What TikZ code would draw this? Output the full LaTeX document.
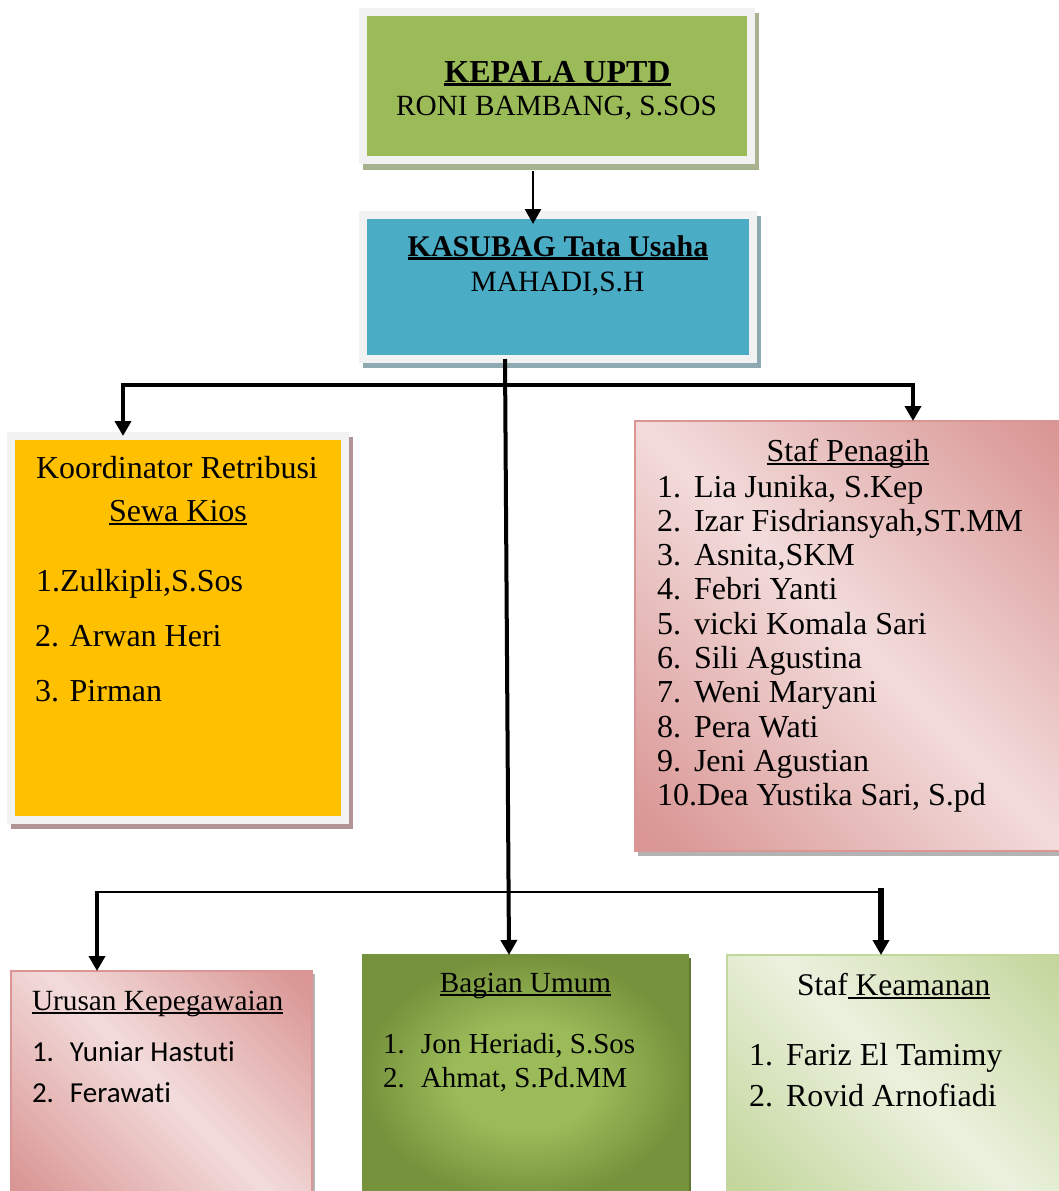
\documentclass[tikz,border=0pt]{standalone}
\usepackage{fontspec}
\setmainfont{Liberation Serif}
\newfontfamily\calibrifont[Ligatures=CommonOff]{Carlito}
\usetikzlibrary{arrows.meta,calc,backgrounds}

\definecolor{kgreen}{HTML}{9BBB59}
\definecolor{frameC}{HTML}{F2F2F2}
\definecolor{shGreen}{HTML}{A7B28F}
\definecolor{kblue}{HTML}{4BACC6}
\definecolor{shBlue}{HTML}{8FA9B3}
\definecolor{kyellow}{HTML}{FFC000}
\definecolor{shRose}{HTML}{B39494}
\definecolor{pinkD}{HTML}{D99694}
\definecolor{pinkL}{HTML}{F2DCDB}
\definecolor{olivD}{HTML}{76923C}
\definecolor{olivL}{HTML}{9BBB59}
\definecolor{shOliv}{HTML}{5F7530}
\definecolor{lgD}{HTML}{C3D69B}
\definecolor{lgL}{HTML}{EBF1DE}
\definecolor{shGrey}{HTML}{B3B3B3}

\pgfdeclarehorizontalshading{pinkdiag}{100bp}{color(0bp)=(pinkD); color(17bp)=(pinkD); color(50bp)=(pinkL); color(83bp)=(pinkD); color(100bp)=(pinkD)}
\pgfdeclarehorizontalshading{lgdiag}{100bp}{color(0bp)=(lgD); color(17bp)=(lgD); color(50bp)=(lgL); color(83bp)=(lgD); color(100bp)=(lgD)}
\pgfdeclareradialshading{olivrad}{\pgfpoint{0bp}{0bp}}{color(0bp)=(olivL); color(11bp)=(olivL); color(25bp)=(olivD); color(50bp)=(olivD)}

\newsavebox\ulbox
\newcommand{\ulin}[2][2pt]{\sbox\ulbox{#2}\rlap{\rule[-4pt]{\wd\ulbox}{#1}}\usebox\ulbox}

\tikzset{
  framed/.style={rectangle, draw=frameC, line width=8pt, inner sep=0pt, outer sep=0pt},
  plainbox/.style={rectangle, line width=1.5pt, inner sep=0pt, outer sep=0pt},
  txt/.style={inner sep=0pt, outer sep=0pt, anchor=base},
  ltxt/.style={inner sep=0pt, outer sep=0pt, anchor=base west},
  arr/.style={-{Triangle[length=15pt,width=16pt]}, line width=4pt},
}

\begin{document}
\begin{tikzpicture}[x=1pt,y=-1pt]
\useasboundingbox (0,0) rectangle (1059,1191);

% boxes
\node[framed, fill=kgreen, minimum width=388pt, minimum height=148pt] (kepala) at (557,86) {};
\node[framed, fill=kblue, minimum width=390pt, minimum height=144pt] (kasubag) at (558,287) {};
\node[framed, fill=kyellow, minimum width=334pt, minimum height=384pt] (koord) at (178,628) {};
\node[plainbox, draw=pinkD, shade, shading=pinkdiag, shading angle=45, minimum width=440pt, minimum height=430pt] (penagih) at (855,636) {};
\node[plainbox, draw=pinkD, shade, shading=pinkdiag, shading angle=45, minimum width=301pt, minimum height=229pt] (urusan) at (161.5,1085.5) {};
\node[plainbox, draw=olivD, shade, shading=olivrad, minimum width=325pt, minimum height=245pt] (bagian) at (525.5,1077.5) {};
\node[plainbox, draw=lgD, shade, shading=lgdiag, shading angle=45, minimum width=348pt, minimum height=245pt] (keamanan) at (901,1077.5) {};

% shadows
\begin{scope}[on background layer]
  \fill[white] (0,0) rectangle (1059,1191);
  \fill[shGreen] ($(kepala.north west)+(0,1)$) rectangle ($(kepala.south east)+(8,10)$);
  \fill[shBlue] ($(kasubag.north west)+(0,1)$) rectangle ($(kasubag.south east)+(8,9)$);
  \fill[shRose] ($(koord.north west)+(0,1)$) rectangle ($(koord.south east)+(8,9)$);
  \fill[shGrey] ($(penagih.north west)+(3,5)$) rectangle ($(penagih.south east)+(3,5)$);
  \fill[shGrey] ($(urusan.north west)+(3,3)$) rectangle ($(urusan.south east)+(3,3)$);
  \fill[shOliv] ($(bagian.north west)+(3,3)$) rectangle ($(bagian.south east)+(3,3)$);
\end{scope}

% texts: top boxes
\node[txt, font=\fontsize{32}{36}\selectfont\bfseries] (t1) at (557.5,82) {\ulin[3pt]{KEPALA UPTD}};
\node[txt, font=\fontsize{29.3}{33}\selectfont] (t2) at (556.5,115) {RONI BAMBANG, S.SOS};
\node[txt, font=\fontsize{30}{34}\selectfont\bfseries] (t3) at (558,256) {\ulin[3pt]{KASUBAG Tata Usaha}};
\node[txt, font=\fontsize{29.5}{34}\selectfont] (t4) at (557.5,291) {MAHADI,S.H};

% koordinator
\node[txt, font=\fontsize{32}{36}\selectfont] (k1) at (177,478) {Koordinator Retribusi};
\node[txt, font=\fontsize{32}{36}\selectfont] (k2) at (178,521) {\ulin{Sewa Kios}};
\node[ltxt, font=\fontsize{32}{36}\selectfont] (k3) at (36,591) {1.Zulkipli,S.Sos};
\node[ltxt, font=\fontsize{32}{36}\selectfont] (k4) at (35,646) {2. Arwan Heri};
\node[ltxt, font=\fontsize{32}{36}\selectfont] (k5) at (35,701) {3. Pirman};

% staf penagih
\node[txt, font=\fontsize{32}{36}\selectfont] (p0) at (848,461) {\ulin{Staf Penagih}};
\foreach \t [count=\i] in {{Lia Junika, S.Kep},{Izar Fisdriansyah,ST.MM},{Asnita,SKM},{Febri Yanti},{vicki Komala Sari},{Sili Agustina},{Weni Maryani},{Pera Wati},{Jeni Agustian},{Dea Yustika Sari, S.pd}}
  \node[ltxt, font=\fontsize{32}{34}\selectfont] (p\i) at (657,{497+34.3*(\i-1)}) {\ifnum\i>9 \i.\else\makebox[37pt][l]{\i.}\fi\t};

% urusan kepegawaian
\node[ltxt, font=\fontsize{29.3}{34}\selectfont] (u0) at (32,1010) {\ulin{Urusan Kepegawaian}};
\node[ltxt, font=\calibrifont\fontsize{29}{34}\selectfont] (u1) at (32,1061) {\makebox[38pt][l]{1.}Yuniar Hastuti};
\node[ltxt, font=\calibrifont\fontsize{29}{34}\selectfont] (u2) at (32,1102) {\makebox[38pt][l]{2.}Ferawati};

% bagian umum
\node[txt, font=\fontsize{29.2}{34}\selectfont] (g0) at (525.5,992) {\ulin{Bagian Umum}};
\node[ltxt, font=\fontsize{29}{34}\selectfont] (g1) at (383,1053) {\makebox[38pt][l]{1.}Jon Heriadi, S.Sos};
\node[ltxt, font=\fontsize{29}{34}\selectfont] (g2) at (383,1087) {\makebox[38pt][l]{2.}Ahmat, S.Pd.MM};

% staf keamanan
\node[ltxt, font=\fontsize{31.5}{36}\selectfont] (s0) at (797,995) {Staf\ulin{\ Keamanan}};
\node[ltxt, font=\fontsize{32}{36}\selectfont] (s1) at (749,1065) {\makebox[37pt][l]{1.}Fariz El Tamimy};
\node[ltxt, font=\fontsize{32}{36}\selectfont] (s2) at (749,1106) {\makebox[37pt][l]{2.}Rovid Arnofiadi};

% connectors
\draw[arr, line width=2.5pt] ($(kepala.south)+(-24,11)$) -- ($(kasubag.north)+(-25,9)$);
\draw[arr] ($(kasubag.south)+(-53,0)$) -- ($(bagian.north)+(-16.5,0)$);

\coordinate (b1L) at (123,385);
\coordinate (b1R) at (913,385);
\draw[arr] (b1R) -- (b1L) -- (b1L |- koord.north);
\draw[arr] (b1L) -- (b1R) -- (b1R |- penagih.north);

\coordinate (b2L) at (97,892);
\coordinate (b2R) at (881,892);
\draw[line width=2pt] (b2L) -- (b2R);
\draw[arr] ($(b2L)+(0,-1)$) -- (b2L |- urusan.north);
\draw[arr, line width=6pt] ($(b2R)+(0,-4)$) -- (b2R |- keamanan.north);
\end{tikzpicture}
\end{document}
